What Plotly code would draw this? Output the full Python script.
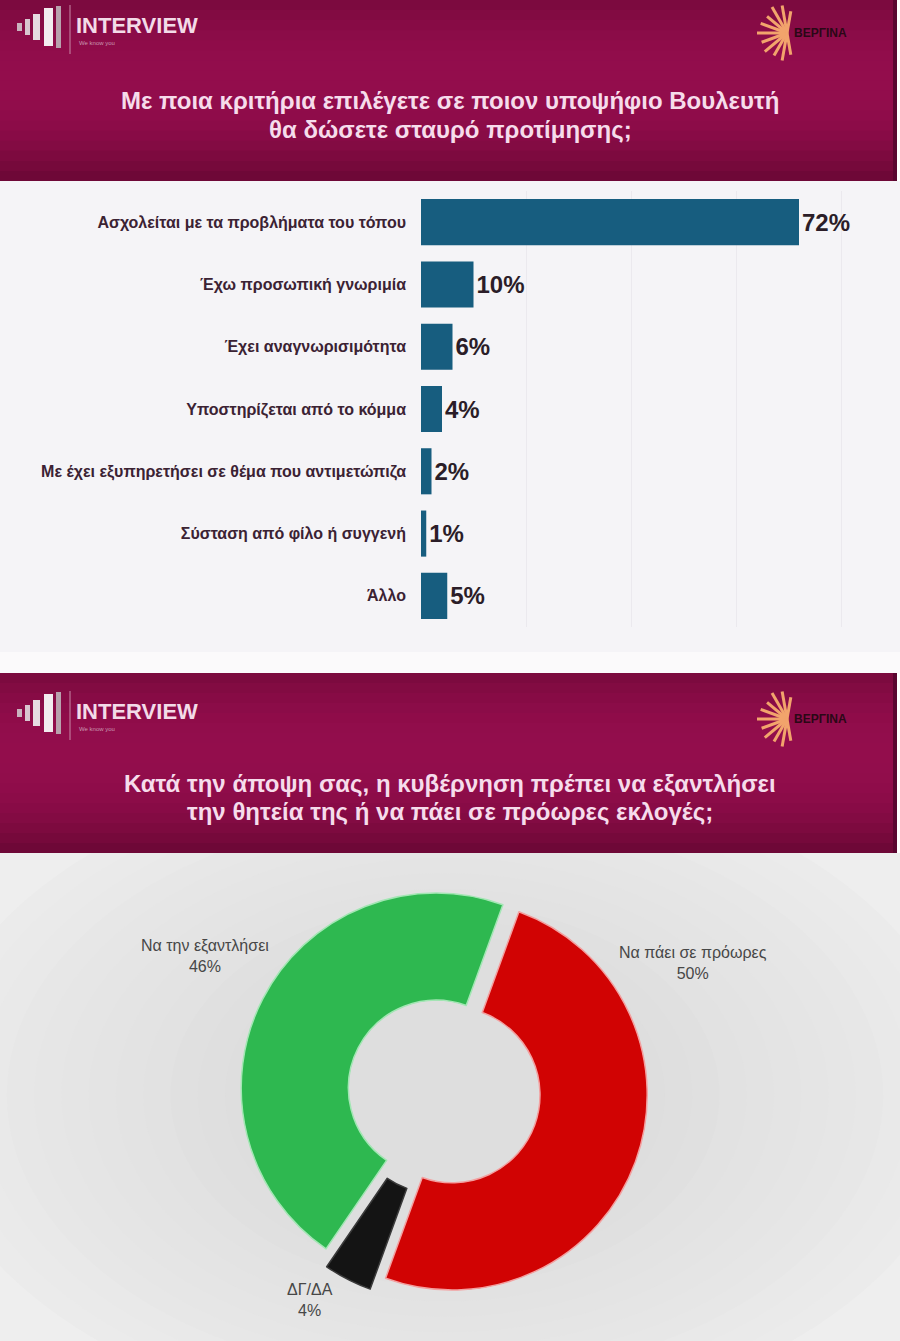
import math
import plotly.graph_objects as go

W, H = 900, 1341

# ---------------- data ----------------
bar_categories = [
    "Ασχολείται με τα προβλήματα του τόπου",
    "Έχω προσωπική γνωριμία",
    "Έχει αναγνωρισιμότητα",
    "Υποστηρίζεται από το κόμμα",
    "Με έχει εξυπηρετήσει σε θέμα που αντιμετώπιζα",
    "Σύσταση από φίλο ή συγγενή",
    "Άλλο",
]
bar_values = [72, 10, 6, 4, 2, 1, 5]

pie_labels = ["Να πάει σε πρόωρες", "ΔΓ/ΔΑ", "Να την εξαντλήσει"]
pie_values = [50, 4, 46]

title_top = ["Με ποια κριτήρια επιλέγετε σε ποιον υποψήφιο Βουλευτή",
             "θα δώσετε σταυρό προτίμησης;"]
title_bottom = ["Κατά την άποψη σας, η κυβέρνηση πρέπει να εξαντλήσει",
                "την θητεία της ή να πάει σε πρόωρες εκλογές;"]
logo_left = "INTERVIEW"
logo_right = "ΒΕΡΓΙΝΑ"


def px(x):
    return x / W


def py(y):
    return 1 - y / H


shapes = []
annotations = []


def rect(x0, y0, x1, y1, color, layer="below"):
    shapes.append(dict(type="rect", xref="paper", yref="paper",
                       x0=px(x0), x1=px(x1), y0=py(y1), y1=py(y0),
                       fillcolor=color, line=dict(width=0), layer=layer))


def lerp_color(c1, c2, t):
    a = [int(c1[i:i + 2], 16) for i in (1, 3, 5)]
    b = [int(c2[i:i + 2], 16) for i in (1, 3, 5)]
    return "#" + "".join(f"{round(a[k] + (b[k] - a[k]) * t):02x}" for k in range(3))


def band(y0, y1):
    n = 18
    h = (y1 - y0) / n
    for i in range(n):
        t = (i + 0.5) / n
        d = abs(t - 0.45) / 0.55
        col = lerp_color("#930d4c", "#6a0734", min(1, d ** 2.2))
        top = y0 + i * h
        rect(0, top, 896, min(y1, top + h + 2), col)
    rect(893, y0, 897, y1, "#5a0630")


def logos(dy):
    bars = [(17, 22, 8, "#c9b3be"), (25, 30, 16, "#d8c6cf"), (33, 40, 26, "#e6dbe1"),
            (44, 53, 38, "#f2ecef"), (56, 61, 42, "#b8a2ad")]
    cy = 27 + dy
    for x0, x1, h, c in bars:
        rect(x0, cy - h / 2, x1, cy + h / 2, c, layer="above")
    shapes.append(dict(type="line", xref="paper", yref="paper",
                       x0=px(70), x1=px(70), y0=py(5 + dy), y1=py(54 + dy),
                       line=dict(color="#c88aa8", width=1)))
    annotations.append(dict(x=px(74), y=py(25 + dy), xref="paper", yref="paper",
                            text=f"<b>{logo_left}</b>", showarrow=False,
                            xanchor="left", yanchor="middle",
                            font=dict(family="Liberation Sans", size=22, color="#f3dbe8")))
    annotations.append(dict(x=px(77), y=py(43 + dy), xref="paper", yref="paper",
                            text="We know you", showarrow=False,
                            xanchor="left", yanchor="middle",
                            font=dict(family="Liberation Sans", size=6, color="#c99ab2")))
    cx, cyy = 787, 33 + dy
    for ang, ln in [(100, 28), (120, 30), (140, 26), (160, 28), (180, 30),
                    (200, 27), (220, 29), (240, 26), (260, 28), (80, 22), (280, 22)]:
        a = math.radians(ang)
        shapes.append(dict(type="line", xref="paper", yref="paper",
                           x0=px(cx), y0=py(cyy),
                           x1=px(cx + ln * math.cos(a)), y1=py(cyy - ln * math.sin(a)),
                           line=dict(color="#f2a46c", width=3)))
    annotations.append(dict(x=px(792), y=py(33 + dy), xref="paper", yref="paper",
                            text=f"<b>{logo_right}</b>", showarrow=False,
                            xanchor="left", yanchor="middle",
                            font=dict(family="Liberation Sans", size=12, color="#2a0816")))


# ---------------- backgrounds ----------------
rect(0, 181, 900, 652, "#f5f4f7")
rect(0, 652, 900, 673, "#fbfafb")
rect(0, 853, 900, H, "#eeeeee")
# soft vignette for the lower panel
steps = 12
for i in range(steps):
    t = i / (steps - 1)
    hw = 520 - 300 * t
    hh = 330 - 170 * t
    col = lerp_color("#ebebeb", "#dedede", t)
    shapes.append(dict(type="circle", xref="paper", yref="paper",
                       x0=px(445 - hw), x1=px(445 + hw),
                       y0=py(1095 + hh), y1=py(1095 - hh),
                       fillcolor=col, line=dict(width=0), layer="below"))
rect(0, 1341, 900, 1345, "#eeeeee")
band(0, 181)
band(673, 853)
logos(0)
logos(686)


def title(lines, y_first, spacing=28):
    for k, line in enumerate(lines):
        annotations.append(dict(x=0.5, y=py(y_first + k * spacing), xref="paper", yref="paper",
                                text=f"<b>{line}</b>", showarrow=False,
                                xanchor="center", yanchor="middle",
                                font=dict(family="Liberation Sans", size=24, color="#f6dceb")))


title(title_top, 101)
title(title_bottom, 783)

# ---------------- bar chart ----------------
fig = go.Figure()
px_per_pct = 5.25
x_left, x_right = 421, 890

fig.add_trace(go.Bar(
    x=bar_values, y=bar_categories, orientation="h",
    marker=dict(color="#175d7f", line=dict(width=0)),
    width=0.74,
    texttemplate="<b>%{x}%</b>", textposition="outside",
    textfont=dict(family="Liberation Sans", size=24, color="#2b1d28"),
    constraintext="none", cliponaxis=False, showlegend=False,
    hoverinfo="skip",
))

# ---------------- donut ----------------
cx, cy, R, maxpull = 444, 1092, 195, 0.08
half = R * (1 + maxpull)
fig.add_trace(go.Pie(
    labels=pie_labels, values=pie_values, hole=0.45, sort=False,
    direction="clockwise", rotation=20,
    pull=[0.045, 0.08, 0.045],
    marker=dict(colors=["#d10303", "#141414", "#2eb850"],
                line=dict(color=["#f3a0a0", "#3a3a3a", "#a3e6b4"], width=1.5)),
    textinfo="none", showlegend=False, hoverinfo="label+percent",
    domain=dict(x=[px(cx - half), px(cx + half)], y=[py(cy + half), py(cy - half)]),
))

pie_label_pos = {"Να πάει σε πρόωρες": (693, 963),
                 "ΔΓ/ΔΑ": (310, 1300),
                 "Να την εξαντλήσει": (205, 956)}
for lab, val in zip(pie_labels, pie_values):
    x, y = pie_label_pos[lab]
    annotations.append(dict(x=px(x), y=py(y), xref="paper", yref="paper",
                            text=f"{lab}<br>{val}%", showarrow=False,
                            xanchor="center", yanchor="middle",
                            font=dict(family="Liberation Sans", size=16, color="#474747")))

fig.update_layout(
    width=W, height=H,
    margin=dict(l=0, r=0, t=0, b=0),
    paper_bgcolor="#ffffff",
    plot_bgcolor="rgba(0,0,0,0)",
    shapes=shapes,
    annotations=annotations,
    xaxis=dict(domain=[px(x_left), px(x_right)],
               range=[0, (x_right - x_left) / px_per_pct],
               showgrid=True, gridcolor="#ebe9ee", gridwidth=1, dtick=20,
               showticklabels=False, zeroline=False, showline=False, fixedrange=True),
    yaxis=dict(domain=[py(627), py(191)], autorange="reversed",
               showgrid=False, zeroline=False, showline=False, ticks="",
               ticklabelstandoff=14,
               tickfont=dict(family="Liberation Sans", size=16, color="#3b2233",
                             weight="bold"),
               fixedrange=True),
)

fig.write_html("out.html")
